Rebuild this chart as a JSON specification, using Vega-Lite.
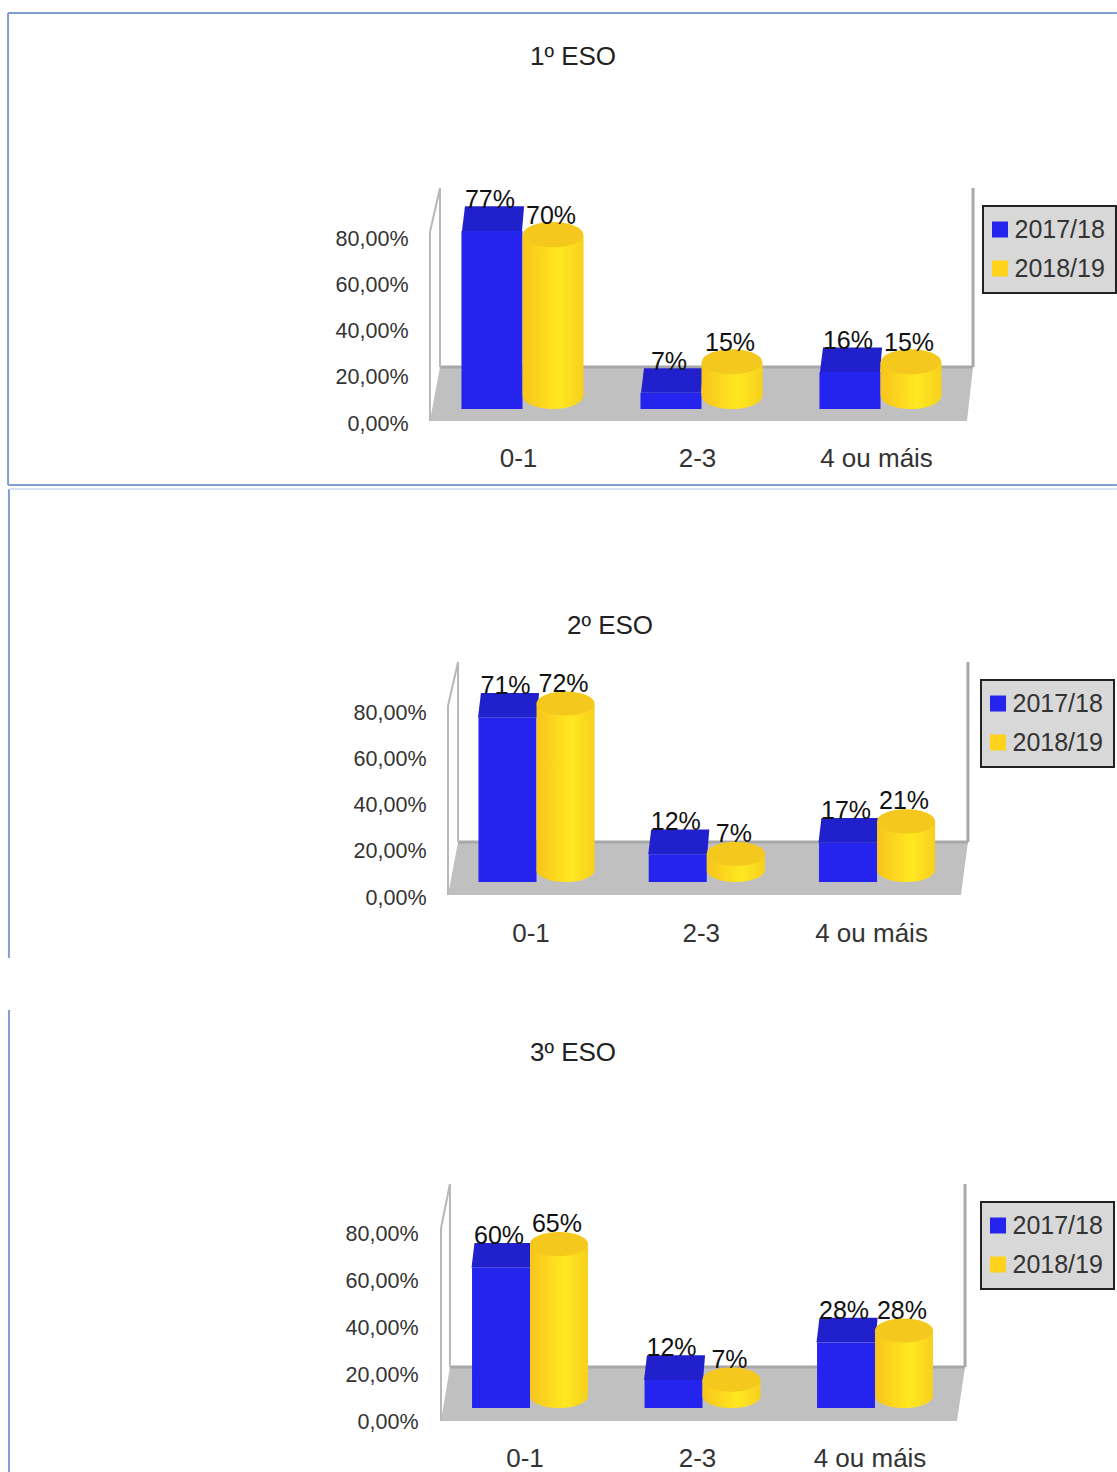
{"$schema":"https://vega.github.io/schema/vega-lite/v6.json","padding":0,"spacing":0,"bounds":"flush","autosize":{"type":"pad"},"background":"white","config":{"view":{"stroke":null},"font":"Liberation Sans","legend":{"strokeWidth":2},"locale":{"number":{"decimal":",","thousands":".","grouping":[3],"currency":["","%"]}}},"resolve":{"scale":{"color":"independent","x":"independent","y":"independent","xOffset":"independent"},"legend":{"color":"independent"}},
"datasets":{
"p1":[{"cat":"0-1","series":"2017/18","value":77,"label":"77%"},{"cat":"2-3","series":"2017/18","value":7,"label":"7%"},{"cat":"4 ou máis","series":"2017/18","value":16,"label":"16%"},{"cat":"0-1","series":"2018/19","value":70,"label":"70%"},{"cat":"2-3","series":"2018/19","value":15,"label":"15%"},{"cat":"4 ou máis","series":"2018/19","value":15,"label":"15%"}],
"p2":[{"cat":"0-1","series":"2017/18","value":71,"label":"71%"},{"cat":"2-3","series":"2017/18","value":12,"label":"12%"},{"cat":"4 ou máis","series":"2017/18","value":17,"label":"17%"},{"cat":"0-1","series":"2018/19","value":72,"label":"72%"},{"cat":"2-3","series":"2018/19","value":7,"label":"7%"},{"cat":"4 ou máis","series":"2018/19","value":21,"label":"21%"}],
"p3":[{"cat":"0-1","series":"2017/18","value":60,"label":"60%"},{"cat":"2-3","series":"2017/18","value":12,"label":"12%"},{"cat":"4 ou máis","series":"2017/18","value":28,"label":"28%"},{"cat":"0-1","series":"2018/19","value":65,"label":"65%"},{"cat":"2-3","series":"2018/19","value":7,"label":"7%"},{"cat":"4 ou máis","series":"2018/19","value":28,"label":"28%"}],
"floor1":[{"x":-0.517,"y":1.3,"y2":1.3},{"x":-0.461,"y":24.65,"y2":1.3},{"x":2.483,"y":24.65,"y2":1.3},{"x":2.517,"y":24.65,"y2":24.65}],
"floor2":[{"x":-0.52,"y":1.3,"y2":1.3},{"x":-0.461,"y":24.22,"y2":1.3},{"x":2.493,"y":24.22,"y2":1.3},{"x":2.534,"y":24.22,"y2":24.22}],
"floor3":[{"x":-0.516,"y":0.43,"y2":0.43},{"x":-0.464,"y":23.53,"y2":0.43},{"x":2.475,"y":23.53,"y2":0.43},{"x":2.522,"y":23.53,"y2":23.53}],
"lines1":[
{"kind":"heavy","seg":"back","x":-0.461,"y":24.65},{"kind":"heavy","seg":"back","x":2.517,"y":24.65},
{"kind":"heavy","seg":"right","x":2.517,"y":102.05},{"kind":"heavy","seg":"right","x":2.517,"y":24.65},
{"kind":"light","seg":"lv","x":-0.461,"y":102.05},{"kind":"light","seg":"lv","x":-0.461,"y":24.65},
{"kind":"light","seg":"ls","x":-0.461,"y":102.05},{"kind":"light","seg":"ls","x":-0.517,"y":83.03},
{"kind":"light","seg":"lf","x":-0.517,"y":83.03},{"kind":"light","seg":"lf","x":-0.517,"y":1.3},
{"kind":"frame","seg":"top","x":-2.874,"y":177.73},{"kind":"frame","seg":"top","x":3.321,"y":177.73},
{"kind":"frame","seg":"left","x":-2.874,"y":177.73},{"kind":"frame","seg":"left","x":-2.874,"y":-26.38},
{"kind":"frame","seg":"bottom","x":-2.874,"y":-26.38},{"kind":"frame","seg":"bottom","x":3.321,"y":-26.38}],
"lines2":[
{"kind":"heavy","seg":"back","x":-0.461,"y":24.22},{"kind":"heavy","seg":"back","x":2.534,"y":24.22},
{"kind":"heavy","seg":"right","x":2.534,"y":102.05},{"kind":"heavy","seg":"right","x":2.534,"y":24.22},
{"kind":"light","seg":"lv","x":-0.461,"y":102.05},{"kind":"light","seg":"lv","x":-0.461,"y":24.22},
{"kind":"light","seg":"ls","x":-0.461,"y":102.05},{"kind":"light","seg":"ls","x":-0.52,"y":83.03},
{"kind":"light","seg":"lf","x":-0.52,"y":83.03},{"kind":"light","seg":"lf","x":-0.52,"y":1.3},
{"kind":"faint","seg":"top","x":-3.099,"y":176.86},{"kind":"faint","seg":"top","x":3.409,"y":176.86},
{"kind":"frame","seg":"left","x":-3.099,"y":176.86},{"kind":"frame","seg":"left","x":-3.099,"y":-25.95}],
"lines3":[
{"kind":"heavy","seg":"back","x":-0.464,"y":23.53},{"kind":"heavy","seg":"back","x":2.522,"y":23.53},
{"kind":"heavy","seg":"right","x":2.522,"y":101.82},{"kind":"heavy","seg":"right","x":2.522,"y":23.53},
{"kind":"light","seg":"lv","x":-0.464,"y":101.82},{"kind":"light","seg":"lv","x":-0.464,"y":23.53},
{"kind":"light","seg":"ls","x":-0.464,"y":101.82},{"kind":"light","seg":"ls","x":-0.516,"y":83},
{"kind":"light","seg":"lf","x":-0.516,"y":83},{"kind":"light","seg":"lf","x":-0.516,"y":0.43},
{"kind":"frame","seg":"left","x":-3.02,"y":176.26},{"kind":"frame","seg":"left","x":-3.02,"y":-21.39}]
},
"vconcat":[
{"width":1117,"height":487,"title":{"text":"1º ESO","anchor":"middle","dx":14.5,"offset":-83,"baseline":"middle","fontSize":26,"fontWeight":"normal","color":"#222","font":"Liberation Sans"},
"resolve":{"scale":{"x":"independent"}},
"layer":[
{"layer":[
{"data":{"name":"floor1"},"mark":{"type":"area","color":"#c0c0c0"},"encoding":{"x":{"field":"x","type":"quantitative","axis":null,"scale":{"domain":[-0.5,2.5],"range":[433,970],"zero":false,"nice":false}},"y":{"field":"y","type":"quantitative","title":null,"scale":{"domain":[-27.24,183.35],"zero":false,"nice":false}},"y2":{"field":"y2"}}},
{"data":{"name":"lines1"},"transform":[{"filter":"datum.kind=='heavy'"}],"mark":{"type":"line","color":"#a8a8a8","strokeWidth":3},"encoding":{"x":{"field":"x","type":"quantitative","axis":null},"y":{"field":"y","type":"quantitative","title":null},"detail":{"field":"seg"}}},
{"data":{"name":"lines1"},"transform":[{"filter":"datum.kind=='light'"}],"mark":{"type":"line","color":"#b8b8b8","strokeWidth":2},"encoding":{"x":{"field":"x","type":"quantitative","axis":null},"y":{"field":"y","type":"quantitative","title":null},"detail":{"field":"seg"}}},
{"data":{"name":"lines1"},"transform":[{"filter":"datum.kind=='frame'"}],"mark":{"type":"line","color":"#7f9fcf","strokeWidth":2},"encoding":{"x":{"field":"x","type":"quantitative","axis":null},"y":{"field":"y","type":"quantitative","title":null},"detail":{"field":"seg"}}}
]},
{"data":{"name":"p1"},"layer":[
{"transform":[{"filter":"datum.series=='2017/18'"}],"mark":{"type":"bar","yOffset":-15,"y2Offset":-15},"encoding":{"x":{"field":"cat","type":"nominal","sort":null,"scale":{"range":[433,970],"paddingInner":0.318,"paddingOuter":0.159},"axis":{"title":null,"orient":"bottom","domain":false,"ticks":false,"labelAngle":0,"labelFontSize":26,"labelFont":"Liberation Sans","labelColor":"#333","labelBaseline":"middle","labelPadding":0,"labelOffset":-4,"offset":-29}},"xOffset":{"field":"series","sort":null},"y":{"field":"value","type":"quantitative","title":null,"axis":{"values":[0,20,40,60,80],"format":"$.2f","grid":false,"domain":false,"ticks":false,"offset":-408,"labelPadding":0,"labelOverlap":false,"labelFontSize":21.5,"labelFont":"Liberation Sans","labelColor":"#333"}},"y2":{"datum":0},"color":{"field":"series","type":"nominal","scale":{"domain":["2017/18","2018/19"],"range":["#2424ee","#ffd31c"]},"legend":{"title":null,"orient":"none","legendX":983,"legendY":206,"symbolType":"square","symbolSize":256,"labelFontSize":25,"labelFont":"Liberation Sans","labelColor":"#333","labelOffset":2,"symbolOffset":-6.5,"padding":11,"rowPadding":13,"fillColor":"#d8d8d8","strokeColor":"#222"}}}},
{"transform":[{"filter":"datum.series=='2017/18'"}],"mark":{"type":"point","filled":true,"opacity":1,"color":"#2020cc","size":3600,"yOffset":-15,"shape":"M -1 0 L -0.9 -0.82 L 1.07 -0.82 L 1 0 Z"},"encoding":{"x":{"field":"cat","type":"nominal","sort":null},"xOffset":{"field":"series","sort":null},"y":{"field":"value","type":"quantitative","title":null}}},
{"transform":[{"filter":"datum.series=='2018/19'"}],"mark":{"type":"point","filled":true,"opacity":1,"color":{"gradient":"linear","x1":0,"x2":1,"y1":0,"y2":0,"stops":[{"offset":0,"color":"#f8c41c"},{"offset":0.6,"color":"#ffe820"},{"offset":1,"color":"#f6d01e"}]},"size":3600,"yOffset":-27.5,"shape":"M -1 0 A 1 0.417 0 1 1 1 0 A 1 0.417 0 1 1 -1 0 Z"},"encoding":{"x":{"field":"cat","type":"nominal","sort":null},"xOffset":{"field":"series","sort":null},"y":{"datum":0,"type":"quantitative","title":null}}},
{"transform":[{"filter":"datum.series=='2018/19'"}],"mark":{"type":"bar","yOffset":-27.5,"y2Offset":-27.5,"color":{"gradient":"linear","x1":0,"x2":1,"y1":0,"y2":0,"stops":[{"offset":0,"color":"#f8c41c"},{"offset":0.6,"color":"#ffe820"},{"offset":1,"color":"#f6d01e"}]}},"encoding":{"x":{"field":"cat","type":"nominal","sort":null},"xOffset":{"field":"series","sort":null},"y":{"field":"value","type":"quantitative","title":null},"y2":{"datum":0}}},
{"transform":[{"filter":"datum.series=='2018/19'"}],"mark":{"type":"point","filled":true,"opacity":1,"color":"#f4c81c","size":3600,"yOffset":-27.5,"shape":"M -1 0 A 1 0.417 0 1 1 1 0 A 1 0.417 0 1 1 -1 0 Z"},"encoding":{"x":{"field":"cat","type":"nominal","sort":null},"xOffset":{"field":"series","sort":null},"y":{"field":"value","type":"quantitative","title":null}}},
{"mark":{"type":"text","fontSize":25,"font":"Liberation Sans","color":"#111","baseline":"alphabetic","yOffset":-38,"dx":-2},"encoding":{"x":{"field":"cat","type":"nominal","sort":null},"xOffset":{"field":"series","sort":null},"y":{"field":"value","type":"quantitative","title":null},"text":{"field":"label"}}}
]}
]},
{"width":1117,"height":498,"title":{"text":"2º ESO","anchor":"middle","dx":51.5,"offset":-167,"baseline":"middle","fontSize":26,"fontWeight":"normal","color":"#222","font":"Liberation Sans"},
"resolve":{"scale":{"x":"independent"}},
"layer":[
{"layer":[
{"data":{"name":"floor2"},"mark":{"type":"area","color":"#c0c0c0"},"encoding":{"x":{"field":"x","type":"quantitative","axis":null,"scale":{"domain":[-0.5,2.5],"range":[451.4,962.15],"zero":false,"nice":false}},"y":{"field":"y","type":"quantitative","title":null,"scale":{"domain":[-37.62,177.73],"zero":false,"nice":false}},"y2":{"field":"y2"}}},
{"data":{"name":"lines2"},"transform":[{"filter":"datum.kind=='heavy'"}],"mark":{"type":"line","color":"#a8a8a8","strokeWidth":3},"encoding":{"x":{"field":"x","type":"quantitative","axis":null},"y":{"field":"y","type":"quantitative","title":null},"detail":{"field":"seg"}}},
{"data":{"name":"lines2"},"transform":[{"filter":"datum.kind=='light'"}],"mark":{"type":"line","color":"#b8b8b8","strokeWidth":2},"encoding":{"x":{"field":"x","type":"quantitative","axis":null},"y":{"field":"y","type":"quantitative","title":null},"detail":{"field":"seg"}}},
{"data":{"name":"lines2"},"transform":[{"filter":"datum.kind=='frame'"}],"mark":{"type":"line","color":"#7f9fcf","strokeWidth":2},"encoding":{"x":{"field":"x","type":"quantitative","axis":null},"y":{"field":"y","type":"quantitative","title":null},"detail":{"field":"seg"}}},
{"data":{"name":"lines2"},"transform":[{"filter":"datum.kind=='faint'"}],"mark":{"type":"line","color":"#d9e2f2","strokeWidth":2},"encoding":{"x":{"field":"x","type":"quantitative","axis":null},"y":{"field":"y","type":"quantitative","title":null},"detail":{"field":"seg"}}}
]},
{"data":{"name":"p2"},"layer":[
{"transform":[{"filter":"datum.series=='2017/18'"}],"mark":{"type":"bar","yOffset":-16,"y2Offset":-16},"encoding":{"x":{"field":"cat","type":"nominal","sort":null,"scale":{"range":[451.4,962.15],"paddingInner":0.318,"paddingOuter":0.159},"axis":{"title":null,"orient":"bottom","domain":false,"ticks":false,"labelAngle":0,"labelFontSize":26,"labelFont":"Liberation Sans","labelColor":"#333","labelBaseline":"middle","labelPadding":0,"labelOffset":-5.5,"offset":-52}},"xOffset":{"field":"series","sort":null},"y":{"field":"value","type":"quantitative","title":null,"axis":{"values":[0,20,40,60,80],"format":"$.2f","grid":false,"domain":false,"ticks":false,"offset":-426,"labelPadding":0,"labelOverlap":false,"labelFontSize":21.5,"labelFont":"Liberation Sans","labelColor":"#333"}},"y2":{"datum":0},"color":{"field":"series","type":"nominal","scale":{"domain":["2017/18","2018/19"],"range":["#2424ee","#ffd31c"]},"legend":{"title":null,"orient":"none","legendX":981,"legendY":193,"symbolType":"square","symbolSize":256,"labelFontSize":25,"labelFont":"Liberation Sans","labelColor":"#333","labelOffset":2,"symbolOffset":-6.5,"padding":11,"rowPadding":13,"fillColor":"#d8d8d8","strokeColor":"#222"}}}},
{"transform":[{"filter":"datum.series=='2017/18'"}],"mark":{"type":"point","filled":true,"opacity":1,"color":"#2020cc","size":3481,"yOffset":-16,"shape":"M -1 0 L -0.9 -0.84 L 1.07 -0.84 L 1 0 Z"},"encoding":{"x":{"field":"cat","type":"nominal","sort":null},"xOffset":{"field":"series","sort":null},"y":{"field":"value","type":"quantitative","title":null}}},
{"transform":[{"filter":"datum.series=='2018/19'"}],"mark":{"type":"point","filled":true,"opacity":1,"color":{"gradient":"linear","x1":0,"x2":1,"y1":0,"y2":0,"stops":[{"offset":0,"color":"#f8c41c"},{"offset":0.6,"color":"#ffe820"},{"offset":1,"color":"#f6d01e"}]},"size":3364,"yOffset":-28,"shape":"M -1 0 A 1 0.417 0 1 1 1 0 A 1 0.417 0 1 1 -1 0 Z"},"encoding":{"x":{"field":"cat","type":"nominal","sort":null},"xOffset":{"field":"series","sort":null},"y":{"datum":0,"type":"quantitative","title":null}}},
{"transform":[{"filter":"datum.series=='2018/19'"}],"mark":{"type":"bar","yOffset":-28,"y2Offset":-28,"color":{"gradient":"linear","x1":0,"x2":1,"y1":0,"y2":0,"stops":[{"offset":0,"color":"#f8c41c"},{"offset":0.6,"color":"#ffe820"},{"offset":1,"color":"#f6d01e"}]}},"encoding":{"x":{"field":"cat","type":"nominal","sort":null},"xOffset":{"field":"series","sort":null},"y":{"field":"value","type":"quantitative","title":null},"y2":{"datum":0}}},
{"transform":[{"filter":"datum.series=='2018/19'"}],"mark":{"type":"point","filled":true,"opacity":1,"color":"#f4c81c","size":3364,"yOffset":-28,"shape":"M -1 0 A 1 0.417 0 1 1 1 0 A 1 0.417 0 1 1 -1 0 Z"},"encoding":{"x":{"field":"cat","type":"nominal","sort":null},"xOffset":{"field":"series","sort":null},"y":{"field":"value","type":"quantitative","title":null}}},
{"mark":{"type":"text","fontSize":25,"font":"Liberation Sans","color":"#111","baseline":"alphabetic","yOffset":-40,"dx":-2},"encoding":{"x":{"field":"cat","type":"nominal","sort":null},"xOffset":{"field":"series","sort":null},"y":{"field":"value","type":"quantitative","title":null},"text":{"field":"label"}}}
]}
]},
{"width":1117,"height":487,"title":{"text":"3º ESO","anchor":"middle","dx":14.5,"offset":-94,"baseline":"middle","fontSize":26,"fontWeight":"normal","color":"#222","font":"Liberation Sans"},
"resolve":{"scale":{"x":"independent"}},
"layer":[
{"layer":[
{"data":{"name":"floor3"},"mark":{"type":"area","color":"#c0c0c0"},"encoding":{"x":{"field":"x","type":"quantitative","axis":null,"scale":{"domain":[-0.5,2.5],"range":[443.75,961.25],"zero":false,"nice":false}},"y":{"field":"y","type":"quantitative","title":null,"scale":{"domain":[-21.39,186.95],"zero":false,"nice":false}},"y2":{"field":"y2"}}},
{"data":{"name":"lines3"},"transform":[{"filter":"datum.kind=='heavy'"}],"mark":{"type":"line","color":"#a8a8a8","strokeWidth":3},"encoding":{"x":{"field":"x","type":"quantitative","axis":null},"y":{"field":"y","type":"quantitative","title":null},"detail":{"field":"seg"}}},
{"data":{"name":"lines3"},"transform":[{"filter":"datum.kind=='light'"}],"mark":{"type":"line","color":"#b8b8b8","strokeWidth":2},"encoding":{"x":{"field":"x","type":"quantitative","axis":null},"y":{"field":"y","type":"quantitative","title":null},"detail":{"field":"seg"}}},
{"data":{"name":"lines3"},"transform":[{"filter":"datum.kind=='frame'"}],"mark":{"type":"line","color":"#7f9fcf","strokeWidth":2},"encoding":{"x":{"field":"x","type":"quantitative","axis":null},"y":{"field":"y","type":"quantitative","title":null},"detail":{"field":"seg"}}}
]},
{"data":{"name":"p3"},"layer":[
{"transform":[{"filter":"datum.series=='2017/18'"}],"mark":{"type":"bar","yOffset":-14,"y2Offset":-14},"encoding":{"x":{"field":"cat","type":"nominal","sort":null,"scale":{"range":[443.75,961.25],"paddingInner":0.328,"paddingOuter":0.164},"axis":{"title":null,"orient":"bottom","domain":false,"ticks":false,"labelAngle":0,"labelFontSize":26,"labelFont":"Liberation Sans","labelColor":"#333","labelBaseline":"middle","labelPadding":0,"labelOffset":-5,"offset":-14}},"xOffset":{"field":"series","sort":null},"y":{"field":"value","type":"quantitative","title":null,"axis":{"values":[0,20,40,60,80],"format":"$.2f","grid":false,"domain":false,"ticks":false,"offset":-418,"labelPadding":0,"labelOverlap":false,"labelFontSize":21.5,"labelFont":"Liberation Sans","labelColor":"#333"}},"y2":{"datum":0},"color":{"field":"series","type":"nominal","scale":{"domain":["2017/18","2018/19"],"range":["#2424ee","#ffd31c"]},"legend":{"title":null,"orient":"none","legendX":981,"legendY":217,"symbolType":"square","symbolSize":256,"labelFontSize":25,"labelFont":"Liberation Sans","labelColor":"#333","labelOffset":2,"symbolOffset":-6.5,"padding":11,"rowPadding":13,"fillColor":"#d8d8d8","strokeColor":"#222"}}}},
{"transform":[{"filter":"datum.series=='2017/18'"}],"mark":{"type":"point","filled":true,"opacity":1,"color":"#2020cc","size":3481,"yOffset":-14,"shape":"M -1 0 L -0.9 -0.84 L 1.07 -0.84 L 1 0 Z"},"encoding":{"x":{"field":"cat","type":"nominal","sort":null},"xOffset":{"field":"series","sort":null},"y":{"field":"value","type":"quantitative","title":null}}},
{"transform":[{"filter":"datum.series=='2018/19'"}],"mark":{"type":"point","filled":true,"opacity":1,"color":{"gradient":"linear","x1":0,"x2":1,"y1":0,"y2":0,"stops":[{"offset":0,"color":"#f8c41c"},{"offset":0.6,"color":"#ffe820"},{"offset":1,"color":"#f6d01e"}]},"size":3364,"yOffset":-26,"shape":"M -1 0 A 1 0.417 0 1 1 1 0 A 1 0.417 0 1 1 -1 0 Z"},"encoding":{"x":{"field":"cat","type":"nominal","sort":null},"xOffset":{"field":"series","sort":null},"y":{"datum":0,"type":"quantitative","title":null}}},
{"transform":[{"filter":"datum.series=='2018/19'"}],"mark":{"type":"bar","yOffset":-26,"y2Offset":-26,"color":{"gradient":"linear","x1":0,"x2":1,"y1":0,"y2":0,"stops":[{"offset":0,"color":"#f8c41c"},{"offset":0.6,"color":"#ffe820"},{"offset":1,"color":"#f6d01e"}]}},"encoding":{"x":{"field":"cat","type":"nominal","sort":null},"xOffset":{"field":"series","sort":null},"y":{"field":"value","type":"quantitative","title":null},"y2":{"datum":0}}},
{"transform":[{"filter":"datum.series=='2018/19'"}],"mark":{"type":"point","filled":true,"opacity":1,"color":"#f4c81c","size":3364,"yOffset":-26,"shape":"M -1 0 A 1 0.417 0 1 1 1 0 A 1 0.417 0 1 1 -1 0 Z"},"encoding":{"x":{"field":"cat","type":"nominal","sort":null},"xOffset":{"field":"series","sort":null},"y":{"field":"value","type":"quantitative","title":null}}},
{"mark":{"type":"text","fontSize":25,"font":"Liberation Sans","color":"#111","baseline":"alphabetic","yOffset":-38,"dx":-2},"encoding":{"x":{"field":"cat","type":"nominal","sort":null},"xOffset":{"field":"series","sort":null},"y":{"field":"value","type":"quantitative","title":null},"text":{"field":"label"}}}
]}
]}
]}
